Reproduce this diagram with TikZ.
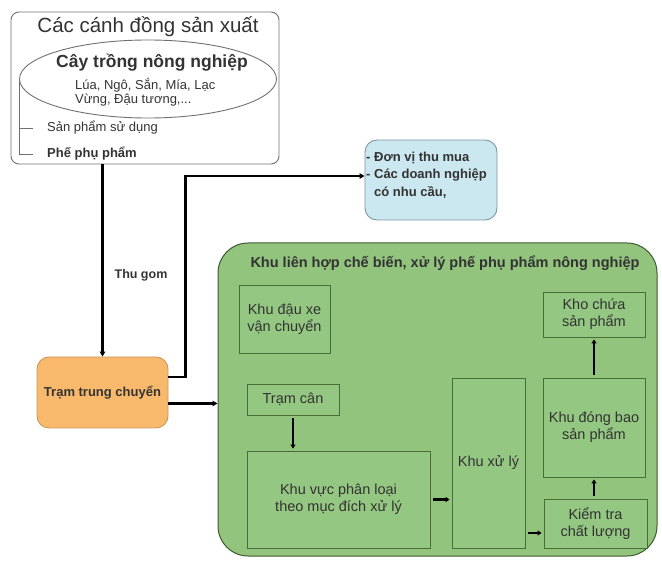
\documentclass[tikz,border=0pt]{standalone}
\usepackage{fontspec}
\setmainfont{Liberation Sans}
\usepackage{xcolor}
\usetikzlibrary{arrows.meta,shapes.geometric}

\definecolor{fieldline}{HTML}{707070}
\definecolor{inktext}{HTML}{333333}
\definecolor{stationfill}{HTML}{F8B96D}
\definecolor{stationline}{HTML}{C99A5E}
\definecolor{buyerfill}{HTML}{CBE7F0}
\definecolor{buyerline}{HTML}{7F979E}
\definecolor{complexfill}{HTML}{92C47E}
\definecolor{complexline}{HTML}{3C5A2E}
\definecolor{zonefill}{HTML}{94C781}
\definecolor{zoneline}{HTML}{466F36}

\begin{document}
\begin{tikzpicture}[x=1pt, y=-1pt,
    txt/.style={font=\fontsize{13}{16}\selectfont, text=inktext, inner sep=0pt},
    boldtxt/.style={font=\bfseries\fontsize{13}{17.5}\selectfont, text=inktext, inner sep=0pt},
    zone/.style={draw=zoneline, fill=zonefill, line width=0.9pt, txt, font=\fontsize{14.5}{17}\selectfont, align=center},
    flow/.style={-{Triangle[length=5pt,width=5.5pt]}, line width=2.2pt},
    innerflow/.style={-{Triangle[length=4pt,width=5pt]}, line width=2.4pt, shorten <=3pt, shorten >=2pt}]
    \useasboundingbox (0,0) rectangle (662,561);

    \node[draw=fieldline, line width=0.9pt, rounded corners=8pt, minimum width=268pt, minimum height=152pt] (fields) at (145,88) {};
    \node[font=\fontsize{20.5}{24}\selectfont, text=inktext] (fieldsTitle) at (148,27) {Các cánh đồng sản xuất};
    \node[ellipse, draw=fieldline, line width=0.9pt, minimum width=257pt, minimum height=78pt] (crop) at (148,79) {};
    \node[font=\bfseries\fontsize{17.5}{20}\selectfont, text=inktext] (cropTitle) at (152,63) {Cây trồng nông nghiệp};
    \node[txt, font=\fontsize{13}{14.5}\selectfont, align=left, anchor=west] (cropList) at (75,92) {Lúa, Ngô, Sắn, Mía, Lạc\\Vừng, Đậu tương,...};
    \coordinate (useTick) at (33,128);
    \coordinate (wasteTick) at (33,154);
    \node[txt, anchor=west] (use) at (47,128) {Sản phẩm sử dụng};
    \node[boldtxt, anchor=west] (waste) at (47,154) {Phế phụ phẩm};
    \draw[fieldline, line width=0.9pt] (crop.west) |- (wasteTick);
    \draw[fieldline, line width=0.9pt] (crop.west |- useTick) -- (useTick);

    \node[draw=stationline, fill=stationfill, line width=0.9pt, rounded corners=12pt, minimum width=131pt, minimum height=71pt, boldtxt] (station) at (102.5,392.5) {Trạm trung chuyển};
    \draw[flow] (fields.south -| station.north) -- (station.north);
    \node[boldtxt, font=\bfseries\fontsize{12.5}{15}\selectfont] (collect) at (141,275) {Thu gom};

    \node[draw=buyerline, fill=buyerfill, line width=0.9pt, rounded corners=12pt, minimum width=132pt, minimum height=80pt] (buyer) at (431,180) {};
    \node[boldtxt, align=left, anchor=west] (buyerText) at (366,175) {- Đơn vị thu mua\\- Các doanh nghiệp\\\phantom{- }có nhu cầu,};
    \draw[flow] ([yshift=15.5pt]station.east) -- ++(17,0) |- ([yshift=4pt]buyer.west);

    \node[draw=complexline, fill=complexfill, line width=1pt, rounded corners=30pt, minimum width=439pt, minimum height=313pt] (complex) at (437.5,399.5) {};
    \node[boldtxt, font=\bfseries\fontsize{14.5}{17}\selectfont] (complexTitle) at (445,263) {Khu liên hợp chế biến, xử lý phế phụ phẩm nông nghiệp};
    \draw[flow] ([yshift=-11pt]station.east) -- ([yshift=-11pt]station.east -| complex.west);

    \node[zone, minimum width=91pt, minimum height=68pt] (park) at (284.5,319) {Khu đậu xe\\vận chuyển};
    \node[zone, minimum width=92pt, minimum height=31pt] (scale) at (293,399.5) {Trạm cân};
    \node[zone, minimum width=183pt, minimum height=97pt] (sort) at (338.5,499.5) {Khu vực phân loại\\theo mục đích xử lý};
    \node[zone, minimum width=73pt, minimum height=170pt] (treat) at (488.5,463) {Khu xử lý};
    \node[zone, minimum width=102pt, minimum height=45pt] (store) at (594,314.5) {Kho chứa\\sản phẩm};
    \node[zone, minimum width=102pt, minimum height=99pt] (pack) at (594,427.5) {Khu đóng bao\\sản phẩm};
    \node[zone, minimum width=103pt, minimum height=49pt] (check) at (595.5,523.5) {Kiểm tra\\chất lượng};

    \draw[innerflow] (scale.south) -- (scale.south |- sort.north);
    \draw[innerflow] (sort.east) -- (sort.east -| treat.west);
    \draw[innerflow] ([yshift=-9.5pt]check.west -| treat.east) -- ([yshift=-9.5pt]check.west);
    \draw[innerflow] (check.north -| pack.south) -- (pack.south);
    \draw[innerflow] (pack.north) -- (store.south);
\end{tikzpicture}
\end{document}
